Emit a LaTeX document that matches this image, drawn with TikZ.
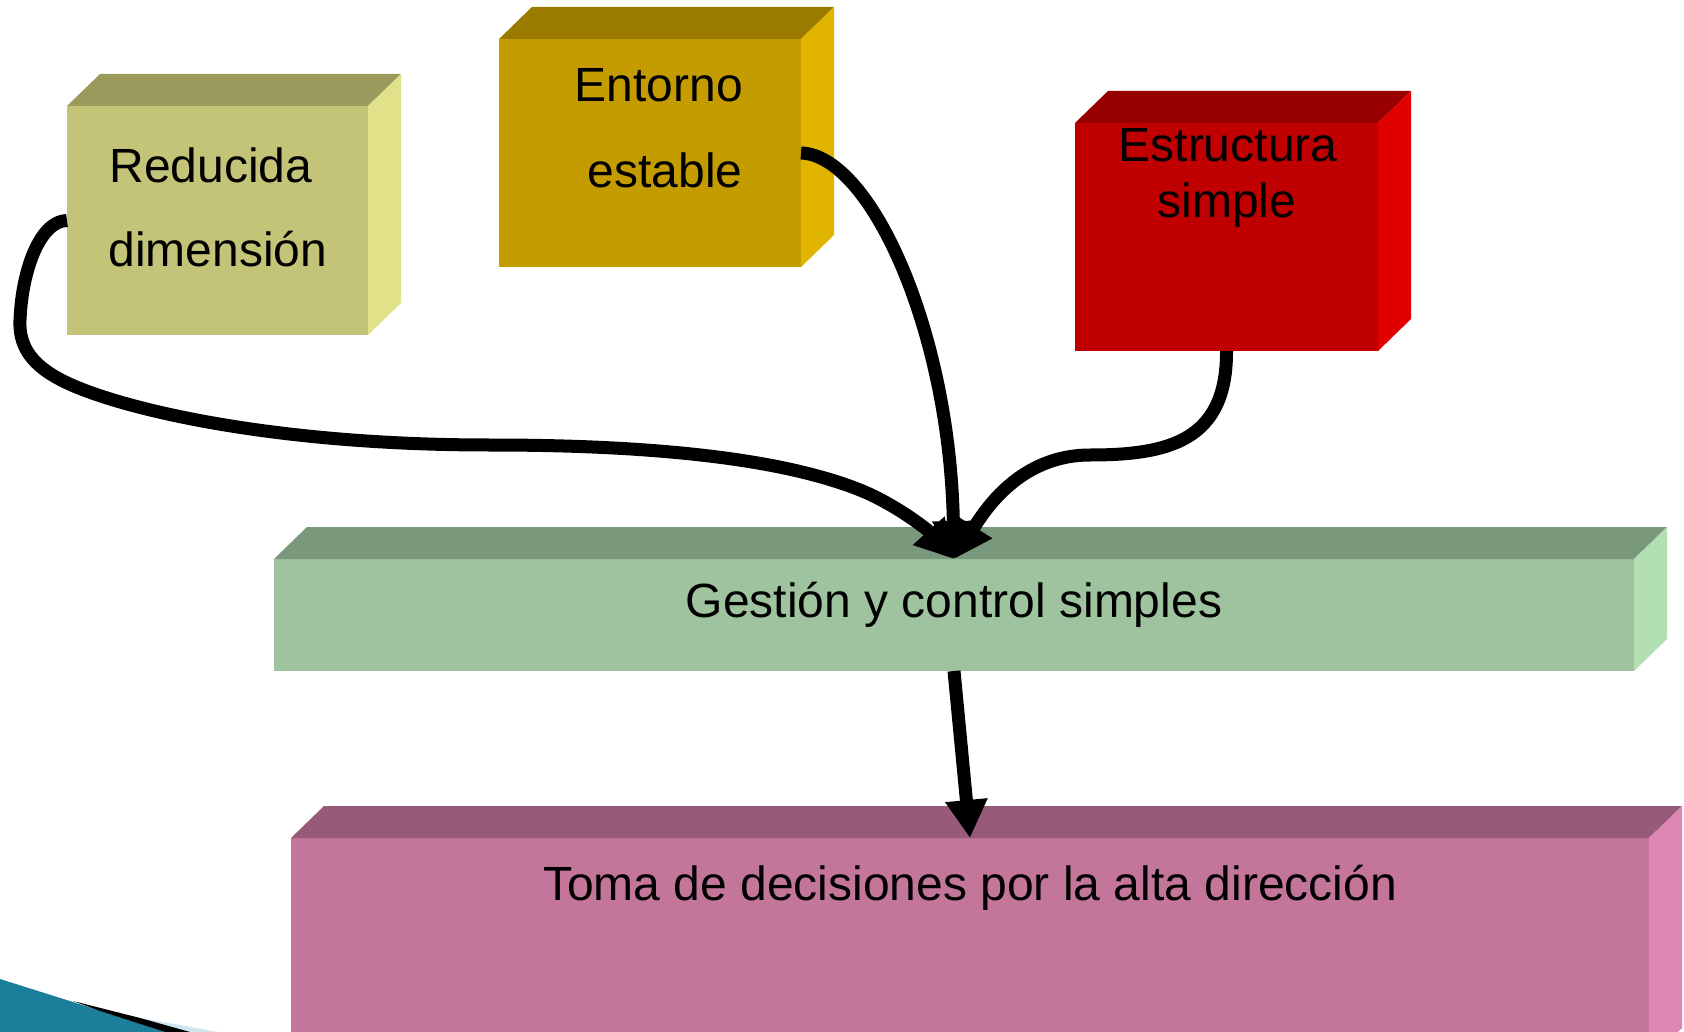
\documentclass[tikz,border=0pt]{standalone}
\usepackage{fontspec}
\setmainfont{Liberation Sans}
\usetikzlibrary{arrows.meta}
\definecolor{redF}{HTML}{C4C478}\definecolor{redT}{HTML}{9A9A5C}\definecolor{redS}{HTML}{E1E18A}
\definecolor{entF}{HTML}{C49C00}\definecolor{entT}{HTML}{9A7B00}\definecolor{entS}{HTML}{E1B400}
\definecolor{estF}{HTML}{C00000}\definecolor{estT}{HTML}{980000}\definecolor{estS}{HTML}{E00000}
\definecolor{gesF}{HTML}{9FC39F}\definecolor{gesT}{HTML}{7A987C}\definecolor{gesS}{HTML}{B2E0B2}
\definecolor{tomF}{HTML}{C3759A}\definecolor{tomT}{HTML}{985A79}\definecolor{tomS}{HTML}{DE86B2}
\definecolor{teal}{HTML}{1B7F9B}\definecolor{paleblue}{HTML}{CFE6EE}
\tikzset{
  front/.style={rectangle, inner sep=0pt, outer sep=0pt, draw=none},
  lbl/.style={anchor=base, inner sep=0pt, font=\fontsize{48}{56}\selectfont, text=black},
  conn/.style={line width=13pt, draw=black, -{Triangle[width=40pt,length=38pt]}},
}
% box: name, x1, y1, x2, y2, front, top, side
\newcommand{\mybox}[8]{%
  \node[front, fill=#6, minimum width={#4-#2}, minimum height={#5-#3}] (#1) at ({(#2+#4)/2},{(#3+#5)/2}) {};
  \fill[#7] (#1.north west) -- ++(33pt,32pt) -- ([xshift=33pt,yshift=32pt]#1.north east) -- (#1.north east) -- cycle;
  \fill[#8] (#1.north east) -- ++(33pt,32pt) -- ([xshift=33pt,yshift=32pt]#1.south east) -- (#1.south east) -- cycle;
}
\begin{document}
\begin{tikzpicture}[x=1pt,y=-1pt]
\useasboundingbox (0,0) rectangle (1684,1032);
\clip (0,0) rectangle (1684,1032);
\fill[white] (0,0) rectangle (1684,1032);

\mybox{red}{67}{106}{368}{335}{redF}{redT}{redS}
\mybox{ent}{499}{39}{801}{267}{entF}{entT}{entS}
\mybox{est}{1075}{123}{1378}{351}{estF}{estT}{estS}
\mybox{ges}{274}{559}{1634}{671}{gesF}{gesT}{gesS}
\mybox{tom}{291}{838}{1649}{1060}{tomF}{tomT}{tomS}

\node[lbl] (redA) at (211,183) {Reducida};
\node[lbl] (redB) at (218,267) {dimensión};
\node[lbl] (entA) at (659,102) {Entorno};
\node[lbl] (entB) at (665,188) {estable};
\node[lbl] (estA) at (1228,162) {Estructura};
\node[lbl] (estB) at (1227,218) {simple};
\node[lbl] (gesA) at (954,617) {Gestión y control simples};
\node[lbl] (tomA) at (970,900) {Toma de decisiones por la alta dirección};

% decorative swoosh
\fill[teal] (0,979) -- (73,1002) -- (165,1032) -- (0,1032) -- cycle;
\fill[paleblue] (125,1015) -- (218,1032) -- (180,1032) -- cycle;
\fill[black] (73,1001) -- (140,1018) -- (190,1032) -- (165,1032) -- (100,1011) -- cycle;

% connectors
\draw[conn] (red.west) .. controls (40,221) and (22,270) .. (20,320)
  .. controls (18,360) and (50,380) .. (107,398)
  .. controls (170,418) and (300,445) .. (490,445)
  .. controls (650,445) and (780,458) .. (860,490)
  .. controls (895,504) and (928,530) .. (ges.north);
\draw[conn] (ent.east) .. controls (870,155) and (950,330) .. (ges.north);
\draw[conn] (est.south) .. controls (1227,440) and (1170,455) .. (1090,455)
  .. controls (1020,455) and (985,510) .. (ges.north);
\draw[conn] (ges.south) -- (tom.north);
\end{tikzpicture}
\end{document}
